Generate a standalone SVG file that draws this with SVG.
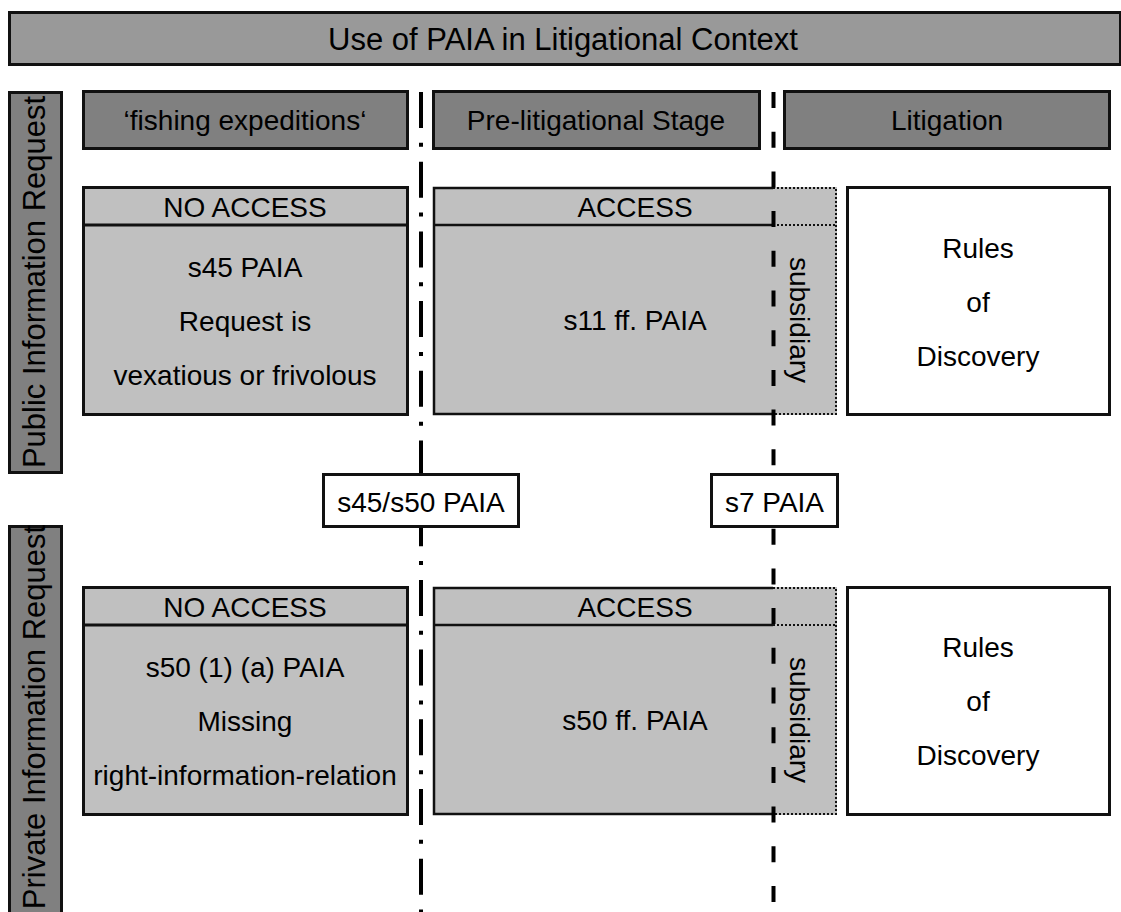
<svg xmlns="http://www.w3.org/2000/svg" width="1121" height="912" viewBox="0 0 1121 912">
<style>
  text { font-family: "Liberation Sans", Arial, sans-serif; fill: #000; text-anchor: middle; }
  .t28 { font-size: 28px; }
  .side { font-size: 31px; }
  .title { font-size: 31px; }
  .titlebox { fill: #999999; stroke: #111; stroke-width: 3; }
  .hdr { fill: #808080; stroke: #111; stroke-width: 3; }
  .gray { fill: #c0c0c0; stroke: #111; stroke-width: 3; }
  .solid { fill: none; stroke: #111; stroke-width: 2.5; }
  .dotted { fill: none; stroke: #111; stroke-width: 2; stroke-dasharray: 2 2; }
  .white { fill: #fff; stroke: #111; stroke-width: 3; }
  .dashdot { fill: none; stroke: #000; stroke-width: 4; stroke-dasharray: 36 14.85 4 14.85; }
  .dashed { fill: none; stroke: #000; stroke-width: 4; stroke-dasharray: 16 23.7; }
</style>

<g id="title">
  <rect class="titlebox" x="9.5" y="12.5" width="1111" height="52"/>
  <text class="title" x="563" y="50">Use of PAIA in Litigational Context</text>
</g>

<g id="side-public">
  <rect class="hdr" x="9.5" y="92.5" width="52" height="380"/>
  <text class="side" transform="translate(45,282) rotate(-90)">Public Information Request</text>
</g>
<g id="side-private">
  <rect class="hdr" x="9.5" y="526.5" width="52" height="400"/>
  <text class="side" transform="translate(45,717) rotate(-90)">Private Information Request</text>
</g>

<g id="hdr-fishing">
  <rect class="hdr" x="83.5" y="91.5" width="324" height="57"/>
  <text class="t28" x="245" y="130">‘fishing expeditions‘</text>
</g>
<g id="hdr-prelit">
  <rect class="hdr" x="433.5" y="91.5" width="326" height="57"/>
  <text class="t28" x="596" y="130">Pre-litigational Stage</text>
</g>
<g id="hdr-lit">
  <rect class="hdr" x="784.5" y="91.5" width="325" height="57"/>
  <text class="t28" x="947" y="130">Litigation</text>
</g>

<!-- Row 1 -->
<g id="noaccess-public">
  <rect class="gray" x="83.5" y="187.5" width="324" height="227"/>
  <line class="solid" x1="83" y1="225" x2="408" y2="225" style="stroke-width:3"/>
  <text class="t28" x="245" y="217">NO ACCESS</text>
  <text class="t28" x="245" y="277">s45 PAIA</text>
  <text class="t28" x="245" y="331">Request is</text>
  <text class="t28" x="245" y="385">vexatious or frivolous</text>
</g>
<g id="access-public">
  <rect x="433" y="187" width="404" height="228" fill="#c0c0c0"/>
  <path class="solid" d="M773 188 H434 V414 H773 M434 225 H773"/>
  <path class="dotted" d="M773 188 H836 V414 H773 M773 225 H836"/>
  <text class="t28" x="635" y="217">ACCESS</text>
  <text class="t28" x="635" y="330">s11 ff. PAIA</text>
  <text class="t28" transform="translate(790,320) rotate(90)">subsidiary</text>
</g>
<g id="rules-public">
  <rect class="white" x="847.5" y="187.5" width="262" height="227"/>
  <text class="t28" x="978" y="258">Rules</text>
  <text class="t28" x="978" y="312">of</text>
  <text class="t28" x="978" y="366">Discovery</text>
</g>

<!-- Row 2 -->
<g id="noaccess-private">
  <rect class="gray" x="83.5" y="587.5" width="324" height="227"/>
  <line class="solid" x1="83" y1="625" x2="408" y2="625" style="stroke-width:3"/>
  <text class="t28" x="245" y="617">NO ACCESS</text>
  <text class="t28" x="245" y="677">s50 (1) (a) PAIA</text>
  <text class="t28" x="245" y="731">Missing</text>
  <text class="t28" x="245" y="785">right-information-relation</text>
</g>
<g id="access-private">
  <rect x="433" y="587" width="404" height="228" fill="#c0c0c0"/>
  <path class="solid" d="M773 588 H434 V814 H773 M434 625 H773"/>
  <path class="dotted" d="M773 588 H836 V814 H773 M773 625 H836"/>
  <text class="t28" x="635" y="617">ACCESS</text>
  <text class="t28" x="635" y="730">s50 ff. PAIA</text>
  <text class="t28" transform="translate(790,720) rotate(90)">subsidiary</text>
</g>
<g id="rules-private">
  <rect class="white" x="847.5" y="587.5" width="262" height="227"/>
  <text class="t28" x="978" y="657">Rules</text>
  <text class="t28" x="978" y="711">of</text>
  <text class="t28" x="978" y="765">Discovery</text>
</g>

<g id="connectors">
  <line class="dashdot" x1="421" y1="92" x2="421" y2="912"/>
  <line class="dashed" x1="773.5" y1="92" x2="773.5" y2="912"/>
</g>

<g id="label-s45s50">
  <rect class="white" x="323.5" y="474.5" width="195" height="52"/>
  <text class="t28" x="421" y="512">s45/s50 PAIA</text>
</g>
<g id="label-s7">
  <rect class="white" x="711.5" y="474.5" width="126" height="52"/>
  <text class="t28" x="774.5" y="512">s7 PAIA</text>
</g>
</svg>
